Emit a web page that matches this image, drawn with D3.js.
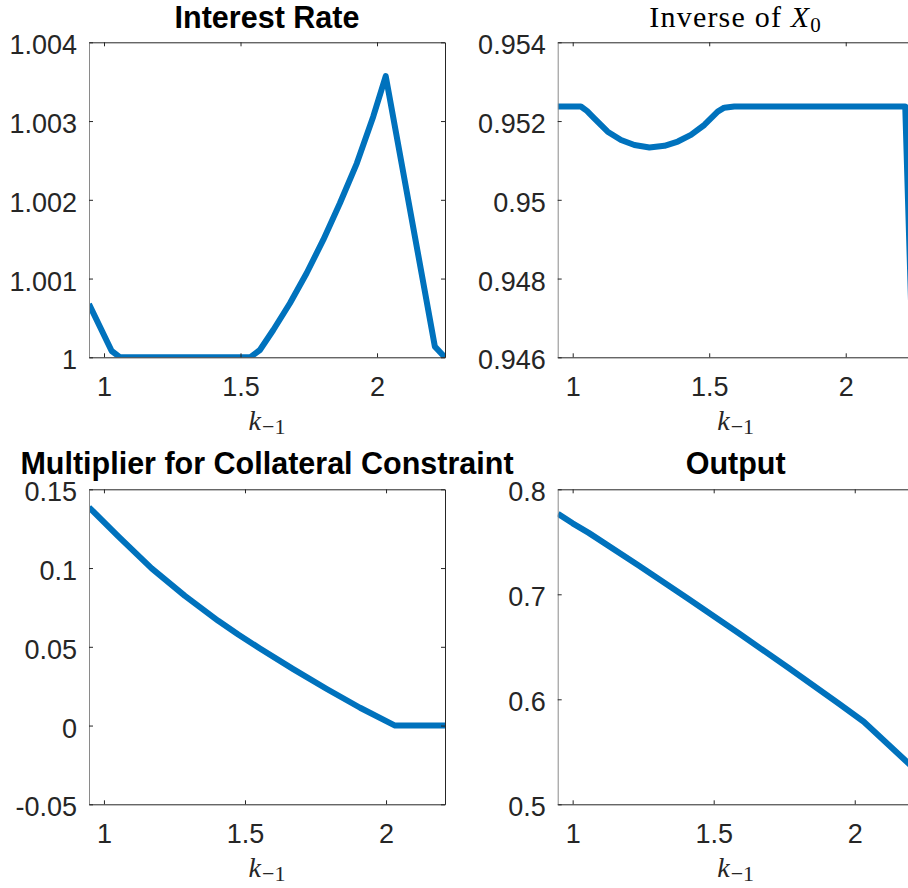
<!DOCTYPE html>
<html>
<head>
<meta charset="utf-8">
<script src="https://cdn.jsdelivr.net/npm/d3@7"></script>
<style>
  html, body { margin: 0; padding: 0; background: #fff; }
  svg { display: block; }
</style>
</head>
<body>
<svg id="fig" width="908" height="888"></svg>
<script>
// Policy functions against last-period capital k_{-1}

// Interest Rate
const rateK = [0.945, 1.028, 1.059, 1.535, 1.571, 1.620, 1.681, 1.742, 1.803, 1.864, 1.926, 1.986, 2.032, 2.212, 2.249];
const rateV = [1.000677, 1.00008, 1.0, 1.0, 1.000093, 1.000347, 1.000686, 1.001067, 1.00149, 1.001956, 1.002463, 1.003055, 1.00357, 1.000135, 1.0];

// Inverse of X_0
const invK = [0.945, 1.030, 1.052, 1.079, 1.128, 1.177, 1.226, 1.281, 1.336, 1.385, 1.433, 1.482, 1.531, 1.555, 1.592, 2.218, 2.249];
const invV = [0.95237, 0.95237, 0.95226, 0.95207, 0.95173, 0.95152, 0.95139, 0.95133, 0.95137, 0.95148, 0.95165, 0.95190, 0.95224, 0.95234, 0.95237, 0.95237, 0.9451];

// Multiplier for Collateral Constraint
const multK = [0.947, 1.050, 1.169, 1.287, 1.405, 1.476, 1.553, 1.671, 1.790, 1.908, 2.032, 2.209];
const multV = [0.1386, 0.1203, 0.0998, 0.0823, 0.0665, 0.0578, 0.0489, 0.0358, 0.0232, 0.0113, 0.0, 0.0];

// Output
const outK = [0.948, 1.000, 1.057, 1.234, 1.411, 1.589, 1.766, 1.943, 2.032, 2.210];
const outV = [0.7766, 0.7676, 0.7585, 0.7275, 0.6955, 0.6629, 0.6298, 0.5960, 0.5786, 0.5341];

// Tick values and labels
const xTicks = [1, 1.5, 2];
const xTickLabels = ["1", "1.5", "2"];
const rateTicks = [1, 1.001, 1.002, 1.003, 1.004];
const rateTickLabels = ["1", "1.001", "1.002", "1.003", "1.004"];
const invTicks = [0.946, 0.948, 0.95, 0.952, 0.954];
const invTickLabels = ["0.946", "0.948", "0.95", "0.952", "0.954"];
const multTicks = [-0.05, 0, 0.05, 0.1, 0.15];
const multTickLabels = ["-0.05", "0", "0.05", "0.1", "0.15"];
const outTicks = [0.5, 0.6, 0.7, 0.8];
const outTickLabels = ["0.5", "0.6", "0.7", "0.8"];

const AXIS = "#262626";
const LINE = "#0072BD";
const SANS = "'Liberation Sans', Arial, Helvetica, sans-serif";
const SERIF = "'Liberation Serif', 'Times New Roman', serif";

const svg = d3.select("#fig");
svg.append("rect").attr("width", 908).attr("height", 888).attr("fill", "#fff");

const W = 356, H = 315;
const panels = [
  { id: "p1", left: 89,    top: 42.3,  xDom: [0.945, 2.249], yDom: [1, 1.004],     k: rateK, v: rateV,
    yt: rateTicks, ytl: rateTickLabels, title: "Interest Rate", titleY: 28 },
  { id: "p2", left: 557.7, top: 42.3,  xDom: [0.945, 2.249], yDom: [0.946, 0.954], k: invK,  v: invV,
    yt: invTicks, ytl: invTickLabels, title: null, titleY: 27 },
  { id: "p3", left: 89,    top: 489.3, xDom: [0.947, 2.209], yDom: [-0.05, 0.15],  k: multK, v: multV,
    yt: multTicks, ytl: multTickLabels, title: "Multiplier for Collateral Constraint", titleY: 474 },
  { id: "p4", left: 557.7, top: 489.3, xDom: [0.947, 2.209], yDom: [0.5, 0.8],     k: outK,  v: outV,
    yt: outTicks, ytl: outTickLabels, title: "Output", titleY: 474 }
];

const defs = svg.append("defs");

panels.forEach(p => {
  const x = d3.scaleLinear().domain(p.xDom).range([p.left, p.left + W]);
  const y = d3.scaleLinear().domain(p.yDom).range([p.top + H, p.top]);
  const g = svg.append("g");

  defs.append("clipPath").attr("id", "clip-" + p.id)
    .append("rect").attr("x", p.left).attr("y", p.top).attr("width", W).attr("height", H);

  // curve
  const pts = p.k.map((kv, i) => [kv, p.v[i]]);
  g.append("path")
    .datum(pts)
    .attr("clip-path", "url(#clip-" + p.id + ")")
    .attr("fill", "none")
    .attr("stroke", LINE)
    .attr("stroke-width", 6)
    .attr("stroke-linejoin", "round")
    .attr("d", d3.line().x(d => x(d[0])).y(d => y(d[1])));

  // box axes with inward ticks on all four sides
  const tl = 4;
  const bottom = d3.axisBottom(x).tickValues(xTicks).tickSizeInner(-tl).tickSizeOuter(0)
    .tickFormat((d, i) => xTickLabels[i]);
  const top = d3.axisTop(x).tickValues(xTicks).tickSizeInner(-tl).tickSizeOuter(0).tickFormat("");
  const leftAx = d3.axisLeft(y).tickValues(p.yt).tickSizeInner(-tl).tickSizeOuter(0)
    .tickFormat((d, i) => p.ytl[i]).tickPadding(12);
  const rightAx = d3.axisRight(y).tickValues(p.yt).tickSizeInner(-tl).tickSizeOuter(0).tickFormat("");

  const gb = g.append("g").attr("transform", `translate(0,${p.top + H})`).call(bottom);
  const gt = g.append("g").attr("transform", `translate(0,${p.top})`).call(top);
  const gl = g.append("g").attr("transform", `translate(${p.left},0)`).call(leftAx);
  const gr = g.append("g").attr("transform", `translate(${p.left + W},0)`).call(rightAx);

  [gb, gt, gl, gr].forEach(a => {
    a.select(".domain").attr("stroke", AXIS).attr("stroke-width", 1);
    a.selectAll(".tick line").attr("stroke", AXIS).attr("stroke-width", 1);
    a.selectAll(".tick text").attr("fill", AXIS).style("font-family", SANS).style("font-size", "27px");
  });
  gl.select(".domain").attr("stroke", "#8a8a8a");
  gb.selectAll(".tick text").attr("y", 39).attr("dy", null);
  gl.selectAll(".tick text").attr("dy", "0.32em").attr("y", 3);

  // x label k_{-1}
  const xl = g.append("text")
    .attr("x", p.left + W / 2)
    .attr("y", p.top + H + 73)
    .attr("text-anchor", "middle")
    .style("font-family", SERIF)
    .attr("fill", AXIS);
  xl.append("tspan").style("font-style", "italic").style("font-size", "28px").text("k");
  xl.append("tspan").style("font-size", "22px").attr("dy", 4).attr("dx", 1).text("\u22121");

  // title
  if (p.title) {
    g.append("text")
      .attr("x", p.left + W / 2)
      .attr("y", p.titleY)
      .attr("text-anchor", "middle")
      .style("font-family", SANS)
      .style("font-weight", "bold")
      .style("font-size", "30.5px")
      .attr("fill", "#000")
      .text(p.title);
  } else {
    const t = g.append("text")
      .attr("x", p.left + W / 2)
      .attr("y", p.titleY)
      .attr("text-anchor", "middle")
      .style("font-family", SERIF)
      .style("font-size", "30px")
      .style("letter-spacing", "1.2px")
      .attr("fill", "#000");
    t.append("tspan").text("Inverse of ");
    t.append("tspan").style("font-style", "italic").text("X");
    t.append("tspan").style("font-size", "21px").attr("dy", 5).text("0");
  }
});
</script>
</body>
</html>
